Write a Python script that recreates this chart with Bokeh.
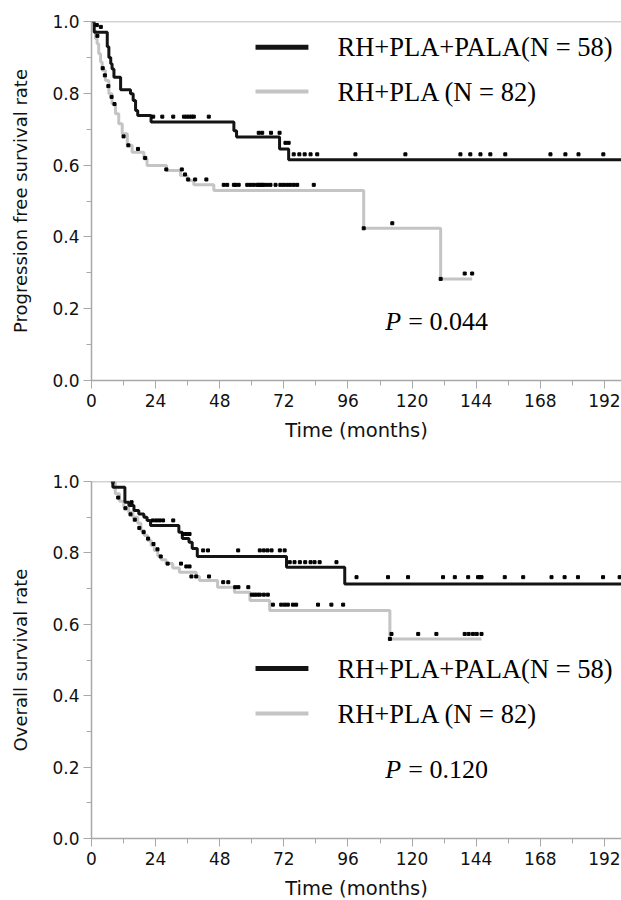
from bokeh.plotting import figure
from bokeh.layouts import column
from bokeh.models import Range1d, SingleIntervalTicker, PrintfTickFormatter, Span
from bokeh.core.properties import value
from bokeh.embed import file_html
from bokeh.resources import INLINE

# ---------------- data: Progression free survival ----------------
pfs_pala_t = [0, 1.0, 5.9, 6.5, 7.2, 7.7, 8.4, 10.9, 14.6, 15.6, 16.5, 17.3, 22.3, 53.3, 54.3, 70.4, 73.8, 198.4]
pfs_pala_s = [1.0, 0.970, 0.93, 0.90, 0.882, 0.868, 0.845, 0.81, 0.799, 0.78, 0.752, 0.738, 0.72, 0.696, 0.678, 0.645, 0.615, 0.615]
pfs_pala_cens_t = [2.0, 3.5, 23.1, 26.5, 30.6, 34.6, 35.6, 36.6, 37.5, 38.3, 43.9, 62.6, 63.9, 67.2, 70.4, 72.6, 73.8,
                   75.7, 77.8, 79.8, 82.0, 84.5, 98.8, 117.5, 138.1, 141.8, 145.6, 149.3, 154.9, 171.8, 177.4, 182.3, 191.6]
pfs_pala_cens_s = [0.99, 0.985, 0.735, 0.735, 0.735, 0.735, 0.735, 0.735, 0.735, 0.735, 0.735, 0.69, 0.69, 0.69, 0.69, 0.662, 0.662,
                   0.63, 0.63, 0.63, 0.63, 0.63, 0.63, 0.63, 0.63, 0.63, 0.63, 0.63, 0.63, 0.63, 0.63, 0.63, 0.63]

pfs_pla_t = [0, 1.0, 1.5, 2.1, 2.7, 3.4, 4.0, 5.2, 6.5, 7.7, 9.0, 10.2, 11.5, 13.4, 15.2, 19.6, 20.8, 28.1, 33.3, 35.8,
             38.3, 45.8, 101.9, 130.7, 142.5]
pfs_pla_s = [1.0, 0.975, 0.952, 0.938, 0.910, 0.887, 0.864, 0.836, 0.799, 0.771, 0.743, 0.715, 0.687, 0.655, 0.636, 0.617,
             0.599, 0.585, 0.571, 0.557, 0.545, 0.529, 0.424, 0.283, 0.283]
pfs_pla_cens_t = [2.2, 4.2, 5.0, 6.3, 7.5, 8.6, 12.0, 13.8, 17.4, 20.1, 28.0, 33.8, 35.0, 36.2, 38.8, 43.0,
                  49.5, 50.8, 53.3, 53.9, 55.1, 58.3, 59.5, 60.7, 62.0, 62.6, 63.2, 63.9, 64.5, 65.7, 67.0, 68.9,
                  70.7, 71.9, 73.2, 74.4, 75.7, 77.0, 83.2, 101.9, 112.6, 130.7, 139.7, 142.5]
pfs_pla_cens_s = [0.96, 0.87, 0.85, 0.82, 0.79, 0.77, 0.68, 0.655, 0.645, 0.62, 0.588, 0.588, 0.574, 0.560, 0.560, 0.560,
                  0.545, 0.545, 0.545, 0.545, 0.545, 0.545, 0.545, 0.545, 0.545, 0.545, 0.545, 0.545, 0.545, 0.545, 0.545, 0.545,
                  0.545, 0.545, 0.545, 0.545, 0.545, 0.545, 0.545, 0.424, 0.438, 0.283, 0.298, 0.298]

# ---------------- data: Overall survival ----------------
os_pala_t = [7.8, 8.0, 12.5, 14.0, 15.9, 17.7, 19.6, 20.8, 22.1, 32.7, 34.0, 36.5, 37.7, 39.6, 73.0, 94.8, 198.4]
os_pala_s = [1.0, 0.984, 0.942, 0.933, 0.919, 0.909, 0.900, 0.891, 0.877, 0.858, 0.840, 0.830, 0.812, 0.790, 0.760, 0.713, 0.713]
os_pala_cens_t = [8.0, 15.0, 23.0, 24.3, 25.5, 26.8, 30.6, 34.3, 35.5, 36.7, 41.8, 43.6, 54.9, 63.0, 64.5, 65.9, 67.4,
                  70.5, 72.3, 74.2, 76.0, 78.0, 80.0, 82.0, 83.5, 85.4, 91.7, 99.2, 111.0, 118.5, 131.6, 136.0,
                  141.0, 144.7, 145.4, 146.0, 154.7, 161.6, 172.2, 177.1, 182.1, 191.5, 197.7]
os_pala_cens_s = [1.0, 0.942, 0.891, 0.891, 0.891, 0.891, 0.891, 0.853, 0.853, 0.853, 0.807, 0.807, 0.807, 0.807, 0.807, 0.807, 0.807,
                  0.807, 0.807, 0.774, 0.774, 0.774, 0.774, 0.774, 0.774, 0.774, 0.774, 0.732, 0.732, 0.732, 0.732, 0.732,
                  0.732, 0.732, 0.732, 0.732, 0.732, 0.732, 0.732, 0.732, 0.732, 0.732, 0.732]

os_pla_t = [7.8, 8.9, 10.5, 12.1, 13.9, 15.5, 17.3, 18.5, 19.8, 21.0, 22.3, 23.5, 24.8, 26.1, 27.9, 30.4, 32.9, 39.2,
            40.4, 47.2, 53.5, 59.3, 66.7, 111.7, 146.0]
os_pla_s = [1.0, 0.966, 0.945, 0.928, 0.914, 0.900, 0.883, 0.863, 0.849, 0.835, 0.821, 0.807, 0.792, 0.781, 0.770, 0.758,
            0.746, 0.734, 0.723, 0.704, 0.690, 0.667, 0.639, 0.559, 0.559]
os_pla_cens_t = [10.0, 12.7, 14.6, 16.2, 17.9, 19.5, 21.2, 23.2, 24.7, 25.9, 28.5, 33.5, 35.5, 36.7, 37.4, 39.2, 44.0,
                 49.3, 51.2, 53.8, 55.0, 58.7, 60.0, 61.0, 62.0, 63.0, 64.5, 66.0, 67.9, 71.0, 72.3, 73.5, 75.4,
                 76.6, 84.8, 89.8, 94.2, 111.7, 112.3, 122.3, 129.1, 139.7, 141.2, 142.8, 144.2, 146.0]
os_pla_cens_s = [0.955, 0.925, 0.908, 0.893, 0.870, 0.858, 0.840, 0.825, 0.810, 0.790, 0.770, 0.770, 0.762, 0.762, 0.734, 0.734, 0.734,
                 0.718, 0.718, 0.704, 0.704, 0.704, 0.683, 0.683, 0.683, 0.683, 0.683, 0.683, 0.655, 0.655, 0.655, 0.655, 0.655,
                 0.655, 0.655, 0.655, 0.655, 0.559, 0.573, 0.573, 0.573, 0.573, 0.573, 0.573, 0.573, 0.573]

legend_labels = ["RH+PLA+PALA(N = 58)", "RH+PLA (N = 82)"]
x_ticks_interval = 24
pfs_p = "0.044"
os_p = "0.120"

BLACK = "#141414"
GRAY = "#c4c4c4"
AXIS = "#a8a8a8"
X_END = 198.4


def make_panel(ylabel, tA, sA, ctA, csA, tB, sB, ctB, csB, leg_y, p_y, pval, border_top, border_bottom, frame_h, height):
    p = figure(width=621, height=height, output_backend="svg", toolbar_location=None,
               x_range=Range1d(0, X_END), y_range=Range1d(0, 1),
               min_border_left=91, min_border_right=0, min_border_top=border_top, min_border_bottom=border_bottom)
    p.frame_height = frame_h
    p.frame_width = 530
    p.outline_line_color = None
    p.xgrid.visible = False
    p.ygrid.visible = False
    p.background_fill_color = "white"
    p.border_fill_color = "white"

    p.add_layout(Span(location=1.0, dimension="width", line_color=AXIS, line_width=1.5))

    # lines
    p.step(tB, sB, mode="after", line_color=GRAY, line_width=3)
    p.step(tA, sA, mode="after", line_color=BLACK, line_width=3)
    p.scatter(ctB, csB, marker="square", size=3, color="black")
    p.scatter(ctA, csA, marker="square", size=3, color="black")

    # legend (manual)
    p.line([61.4, 81.2], [leg_y[0], leg_y[0]], line_color=BLACK, line_width=5)
    p.line([61.4, 81.2], [leg_y[1], leg_y[1]], line_color=GRAY, line_width=4)
    p.text([92.1, 92.1], leg_y, text=legend_labels, text_font=value("Liberation Serif"),
           text_font_size="26.5px", text_baseline="middle", text_color="black")

    # p value
    p.text([110.0], [p_y], text=["P"], text_font=value("Liberation Serif"), text_font_style="italic",
           text_font_size="26px", text_baseline="middle", text_color="black")
    p.text([118.6], [p_y], text=["= " + pval], text_font=value("Liberation Serif"),
           text_font_size="26px", text_baseline="middle", text_color="black")

    p.xaxis.ticker = SingleIntervalTicker(interval=x_ticks_interval, num_minor_ticks=2)
    p.yaxis.ticker = SingleIntervalTicker(interval=0.2, num_minor_ticks=2)
    p.yaxis.formatter = PrintfTickFormatter(format="%.1f")
    for ax in (p.xaxis[0], p.yaxis[0]):
        ax.axis_line_color = AXIS
        ax.axis_line_width = 1.5
        ax.major_tick_line_color = AXIS
        ax.minor_tick_line_color = AXIS
        ax.major_tick_out = 8
        ax.major_tick_in = 0
        ax.minor_tick_out = 5
        ax.minor_tick_in = 0
        ax.major_label_text_font = "DejaVu Sans"
        ax.major_label_text_font_size = "17px"
        ax.major_label_text_color = "#111111"
        ax.axis_label_text_font = "DejaVu Sans"
        ax.axis_label_text_font_size = "19.5px"
        ax.axis_label_text_font_style = "normal"
        ax.axis_label_text_color = "#111111"
    p.xaxis.axis_label = "Time (months)"
    p.xaxis.major_label_standoff = 5
    p.xaxis.axis_label_standoff = 9
    p.yaxis.axis_label = ylabel
    p.yaxis.major_label_standoff = 4
    p.yaxis.axis_label_standoff = 18
    p.yaxis.axis_label_text_font_size = "18px"
    return p


p1 = make_panel("Progression free survival rate",
                pfs_pala_t, pfs_pala_s, pfs_pala_cens_t, pfs_pala_cens_s,
                pfs_pla_t, pfs_pla_s, pfs_pla_cens_t, pfs_pla_cens_s,
                [0.928, 0.805], 0.164, pfs_p, 21, 88, 359, 468)
p2 = make_panel("Overall survival rate",
                os_pala_t, os_pala_s, os_pala_cens_t, os_pala_cens_s,
                os_pla_t, os_pla_s, os_pla_cens_t, os_pla_cens_s,
                [0.476, 0.350], 0.193, os_p, 13, 62, 357, 432)

layout = column(p1, p2, spacing=0)
open("out.html", "w").write(file_html(layout, INLINE))
